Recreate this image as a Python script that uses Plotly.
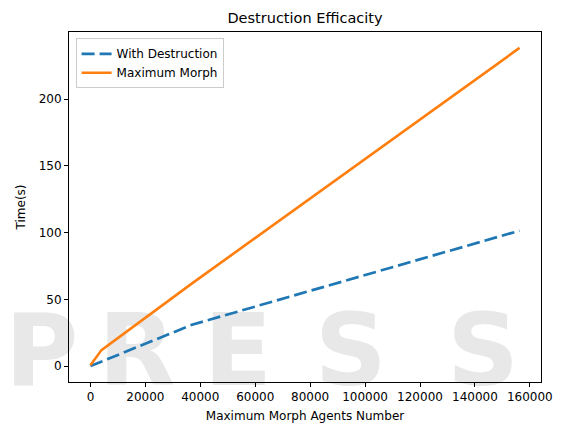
import plotly.graph_objects as go

# ---- data ----
agents = [0, 4000, 37000, 156250]
with_destruction = [0.0, 3.4, 31.0, 101.5]
maximum_morph = [0.6, 12.0, 62.0, 238.5]

x_ticks = [0, 20000, 40000, 60000, 80000, 100000, 120000, 140000, 160000]
y_ticks = [0, 50, 100, 150, 200]

title = "Destruction Efficacity"
x_title = "Maximum Morph Agents Number"
y_title = "Time(s)"
watermark_letters = ["P", "R", "E", "S", "S"]
watermark_x = [-0.058, 0.1435, 0.358, 0.597, 0.877]

FONT = "DejaVu Sans"
W, H = 553, 419  # page adds an 8px body margin

fig = go.Figure()
fig.add_trace(go.Scatter(
    x=agents, y=with_destruction, mode="lines", name="With Destruction",
    line=dict(color="#1f77b4", width=2.7, dash="13px,5px"),
))
fig.add_trace(go.Scatter(
    x=agents, y=maximum_morph, mode="lines", name="Maximum Morph",
    line=dict(color="#ff7f0e", width=2.6),
))

# faint watermark letters (drawn below the traces)
shapes = []
for letter, cx in zip(watermark_letters, watermark_x):
    shapes.append(dict(
        type="rect", xref="paper", yref="paper",
        x0=cx - 0.08, x1=cx + 0.08, y0=-0.04, y1=0.26,
        line=dict(width=0), fillcolor="rgba(0,0,0,0)", layer="below",
        label=dict(text=letter, textposition="middle center",
                   font=dict(family=FONT, size=100, color="#e8e8e8", weight="bold")),
    ))

xmax = max(agents)
ymax = max(maximum_morph)
fig.update_layout(
    width=W, height=H,
    margin=dict(l=61, r=20, t=24, b=45),
    paper_bgcolor="white",
    plot_bgcolor="rgba(0,0,0,0)",
    font=dict(family=FONT, size=12, color="#000000"),
    title=dict(text=title, x=0.5, xref="paper", y=1 - 10 / H, yref="container",
               yanchor="middle", xanchor="center", font=dict(size=14.5)),
    showlegend=True,
    legend=dict(x=0.014, y=0.982, xanchor="left", yanchor="top",
                bgcolor="rgba(255,255,255,0.8)", bordercolor="#cccccc", borderwidth=1,
                font=dict(size=12), tracegroupgap=0),
    shapes=shapes,
)
fig.update_xaxes(
    range=[-0.05 * xmax, 1.05 * xmax], tickvals=x_ticks, tickformat="d",
    showline=True, mirror=True, linecolor="black", linewidth=1,
    ticks="outside", ticklen=4, tickwidth=1, tickcolor="black",
    showgrid=False, zeroline=False, automargin=False,
    title=dict(text=x_title, standoff=8, font=dict(size=12)),
)
fig.update_yaxes(
    range=[-0.05 * ymax, 1.05 * ymax], tickvals=y_ticks,
    showline=True, mirror=True, linecolor="black", linewidth=1,
    ticks="outside", ticklen=4, tickwidth=1, tickcolor="black",
    showgrid=False, zeroline=False, automargin=False,
    title=dict(text=y_title, standoff=10, font=dict(size=12)),
)

fig.write_html("out.html")
